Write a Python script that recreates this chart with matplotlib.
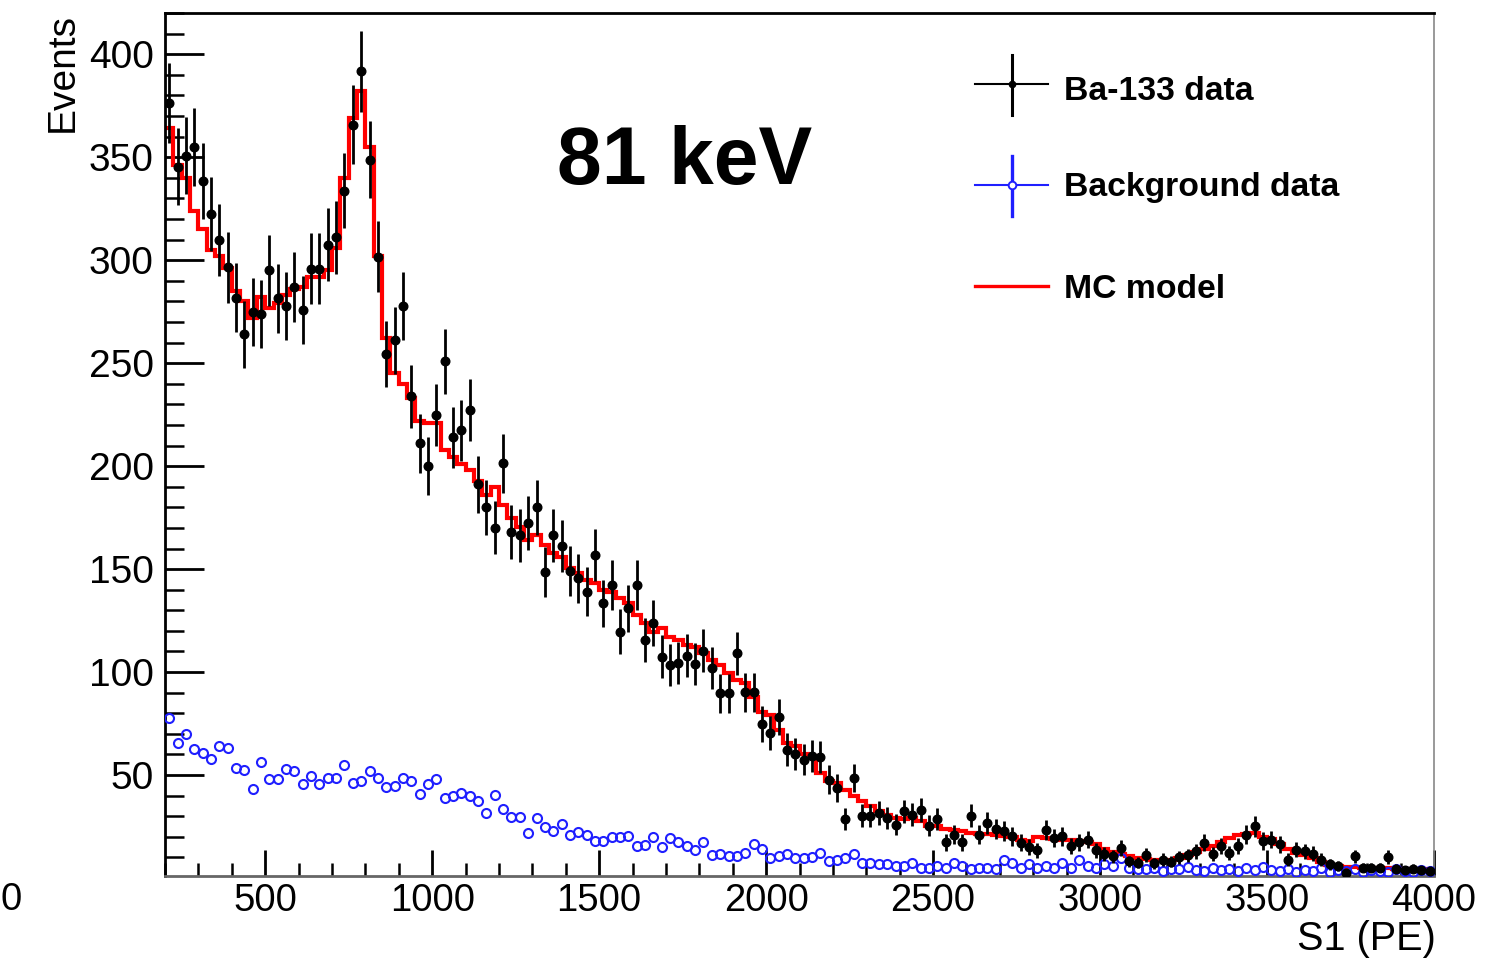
import numpy as np
import matplotlib
matplotlib.use("Agg")
import matplotlib.pyplot as plt
from matplotlib.lines import Line2D
from matplotlib.ticker import MultipleLocator

# ---------------- data (25 PE bins from 200 to 4000 PE) ----------------
bin_lo, bin_hi, bin_w = 200, 4000, 25

ba133_data = [
    376.5, 345.4, 350.7, 355.0, 338.6, 322.4, 309.8, 296.6, 281.7, 264.0,
    274.7, 274.0, 295.0, 281.5, 277.7, 286.9, 275.9, 295.8, 295.8, 307.6,
    311.1, 333.7, 365.7, 391.6, 348.8, 301.7, 254.6, 261.0, 277.7, 234.0,
    211.0, 200.0, 224.7, 250.8, 213.9, 217.4, 227.4, 191.2, 180.0, 170.2,
    201.3, 168.1, 166.5, 172.2, 180.0, 148.4, 166.5, 161.2, 149.0, 145.5,
    139.0, 156.8, 133.4, 142.3, 119.6, 131.0, 142.3, 115.6, 123.7, 107.5,
    103.5, 104.6, 108.0, 104.0, 110.4, 101.9, 89.8, 89.8, 109.2, 90.1,
    90.1, 74.9, 70.4, 78.1, 62.3, 60.4, 57.4, 59.1, 58.8, 47.8,
    43.7, 28.7, 48.6, 30.3, 30.3, 31.6, 29.2, 25.9, 32.4, 30.8,
    32.9, 25.5, 28.7, 17.4, 21.1, 17.4, 30.3, 21.1, 26.8, 23.9,
    22.7, 20.3, 17.1, 15.0, 13.4, 23.5, 19.5, 20.3, 15.4, 17.4,
    18.7, 13.4, 11.7, 10.6, 14.6, 8.1, 7.5, 11.3, 7.1, 9.0,
    8.0, 10.0, 11.0, 13.0, 17.1, 11.5, 15.4, 12.2, 15.4, 21.1,
    25.1, 17.9, 18.7, 16.3, 9.0, 13.8, 13.0, 11.9, 9.0, 6.6,
    5.8, 2.5, 10.6, 5.0, 5.0, 5.0, 10.2, 4.5, 4.0, 4.5,
    4.0, 3.5,
]

background_data = [
    77.5, 65.7, 69.8, 62.5, 60.8, 57.6, 64.1, 63.3, 53.6, 52.4,
    43.4, 56.3, 48.2, 48.2, 53.1, 51.9, 45.8, 49.5, 45.8, 48.7,
    48.7, 54.9, 46.3, 47.1, 51.9, 48.7, 44.2, 44.7, 48.7, 47.1,
    40.6, 45.5, 47.9, 38.7, 39.8, 41.4, 39.8, 37.4, 31.7, 40.3,
    33.7, 29.8, 29.8, 22.0, 29.1, 25.0, 23.0, 26.1, 21.0, 22.4,
    21.0, 18.0, 18.1, 20.1, 20.1, 20.4, 15.7, 16.2, 20.0, 15.1,
    19.5, 17.5, 15.5, 13.6, 17.3, 11.1, 11.5, 10.7, 10.7, 12.3,
    16.3, 13.9, 9.8, 10.7, 11.5, 9.8, 9.8, 10.0, 12.3, 8.2,
    9.0, 9.8, 11.5, 7.4, 7.4, 6.6, 6.6, 5.8, 5.8, 7.4,
    5.0, 5.0, 5.8, 5.0, 7.4, 5.8, 4.2, 5.0, 5.0, 4.2,
    9.0, 7.4, 5.0, 6.6, 5.0, 5.8, 5.0, 7.4, 5.0, 9.0,
    5.8, 5.0, 6.6, 5.8, 9.8, 5.0, 4.2, 4.2, 5.0, 3.4,
    4.2, 4.5, 5.5, 4.0, 3.5, 5.0, 4.0, 4.5, 3.5, 5.0,
    4.0, 5.5, 4.0, 3.5, 4.5, 3.0, 4.0, 3.5, 5.0, 3.0,
    4.0, 3.5, 4.5, 3.0, 4.0, 3.5, 3.0, 4.5, 3.5, 3.0,
    4.0, 3.5,
]

mc_model = [
    364.0, 346.0, 340.0, 324.0, 315.0, 305.0, 302.0, 296.0, 285.0, 280.0,
    272.0, 282.0, 277.0, 279.0, 283.0, 286.0, 287.0, 292.0, 292.0, 295.0,
    306.0, 340.0, 369.0, 382.0, 355.0, 302.0, 262.0, 245.0, 240.0, 233.0,
    222.0, 221.0, 221.0, 208.0, 204.5, 201.0, 198.0, 193.0, 186.0, 190.0,
    181.0, 174.6, 170.5, 164.0, 166.5, 161.7, 157.6, 156.0, 150.4, 148.0,
    144.7, 143.1, 139.8, 139.0, 135.8, 133.4, 127.8, 123.7, 119.6, 121.3,
    117.2, 115.6, 113.2, 112.4, 109.2, 105.9, 103.5, 99.5, 96.2, 94.6,
    88.1, 80.8, 79.2, 72.0, 65.5, 63.9, 60.4, 59.1, 51.0, 47.0,
    46.1, 42.9, 39.6, 37.2, 34.8, 32.4, 30.8, 29.2, 28.8, 29.2,
    27.6, 25.5, 25.1, 23.9, 23.5, 22.7, 21.9, 21.6, 21.6, 21.1,
    20.3, 20.0, 18.4, 17.9, 20.0, 19.5, 19.0, 18.7, 18.4, 17.9,
    17.4, 16.3, 14.2, 12.6, 11.5, 10.6, 9.8, 9.3, 9.0, 9.0,
    9.0, 9.8, 11.0, 12.5, 14.0, 15.5, 17.5, 19.5, 21.0, 21.5,
    21.9, 20.0, 19.0, 16.5, 14.0, 12.0, 11.0, 9.5, 8.0, 6.5,
    5.8, 5.5, 5.2, 5.0, 5.0, 4.8, 4.7, 4.5, 4.5, 4.3,
    4.2, 4.0,
]

x_ticks = [500, 1000, 1500, 2000, 2500, 3000, 3500, 4000]
y_ticks = [50, 100, 150, 200, 250, 300, 350, 400]

# ---------------- figure ----------------
W, H = 1496, 971
fig = plt.figure(figsize=(W / 100, H / 100), dpi=100)
fig.patch.set_facecolor("white")
FONT = "Liberation Sans"

def fx(px):
    return px / W

def fy(py):
    return 1 - py / H

ax = fig.add_axes([fx(165), fy(876), fx(1434) - fx(165), fy(13) - fy(876)])

edges = np.arange(bin_lo, bin_hi + bin_w, bin_w)
centers = edges[:-1] + bin_w / 2
ba = np.array(ba133_data)
bg = np.array(background_data)
mc = np.array(mc_model)

ax.stairs(mc, edges, color="#ff0000", lw=3.0, zorder=2, baseline=None)
ax.plot(centers, bg, ls="none", marker="o", ms=6.5, mfc="none",
        mec="#1f1fff", mew=1.5, zorder=3)
ax.errorbar(centers, ba, yerr=np.sqrt(ba), fmt="o", color="black",
            ms=6.2, elinewidth=2.0, capsize=0, zorder=4)

ax.set_xlim(bin_lo, bin_hi)
ax.set_ylim(1, 420)

ax.set_xticks(x_ticks)
ax.set_yticks(y_ticks)
ax.xaxis.set_minor_locator(MultipleLocator(100))
ax.yaxis.set_minor_locator(MultipleLocator(10))
ax.tick_params(axis="both", which="both", direction="in", top=False, right=False,
               color="black")
ax.tick_params(axis="y", which="major", length=28, width=2.0, pad=8,
               labelsize=28)
ax.tick_params(axis="y", which="minor", length=14, width=1.8)
ax.tick_params(axis="x", which="major", length=19, width=2.0, pad=5,
               labelsize=27.5)
ax.tick_params(axis="x", which="minor", length=9.5, width=1.8)
for lab in ax.get_xticklabels() + ax.get_yticklabels():
    lab.set_fontfamily(FONT)

for s in ("left", "top"):
    ax.spines[s].set_linewidth(2.0)
    ax.spines[s].set_color("black")
ax.spines["bottom"].set_linewidth(2.0)
ax.spines["bottom"].set_color("#666666")
ax.spines["right"].set_linewidth(1.2)
ax.spines["right"].set_color("#888888")

# axis titles (ROOT style, at the ends of the axes)
fig.text(fx(81), fy(13), "Events", rotation=90, ha="right", va="top",
         fontsize=28, family=FONT)
fig.text(fx(1436), fy(958), "S1 (PE)", ha="right", va="bottom",
         fontsize=28.5, family=FONT)
# label from a neighbouring panel at the left edge
fig.text(fx(0), fy(918), "0", ha="left", va="bottom", fontsize=27.5, family=FONT)

# annotation
fig.text(fx(557), fy(184), "81 keV", ha="left", va="baseline",
         fontsize=58, fontweight="bold", family=FONT)

# ---------------- legend (drawn manually, ROOT style) ----------------
def fline(x0, y0, x1, y1, **kw):
    fig.add_artist(Line2D([fx(x0), fx(x1)], [fy(y0), fy(y1)],
                          transform=fig.transFigure, **kw))

# Ba-133 data
fline(975, 84.5, 1048, 84.5, color="black", lw=1.5)
fline(1012, 55, 1012, 115, color="black", lw=2.2)
fig.add_artist(Line2D([fx(1012)], [fy(84.5)], transform=fig.transFigure,
                      marker="o", ms=4.5, color="black", ls="none"))
# Background data
fline(975, 185.5, 1048, 185.5, color="#1f1fff", lw=1.5)
fline(1012, 156, 1012, 216, color="#1f1fff", lw=2.4)
fig.add_artist(Line2D([fx(1012)], [fy(185.5)], transform=fig.transFigure,
                      marker="o", ms=5.5, mfc="white", mec="#1f1fff", mew=1.4,
                      ls="none"))
# MC model
fline(975, 286.5, 1048, 286.5, color="#ff0000", lw=2.4)

leg_labels = ["Ba-133 data", "Background data", "MC model"]
leg_baselines = [100, 196, 298]
for lab, yb in zip(leg_labels, leg_baselines):
    fig.text(fx(1064), fy(yb), lab, ha="left", va="baseline", fontsize=24.3,
             fontweight="bold", family=FONT)

fig.savefig("out.png", dpi=100)
